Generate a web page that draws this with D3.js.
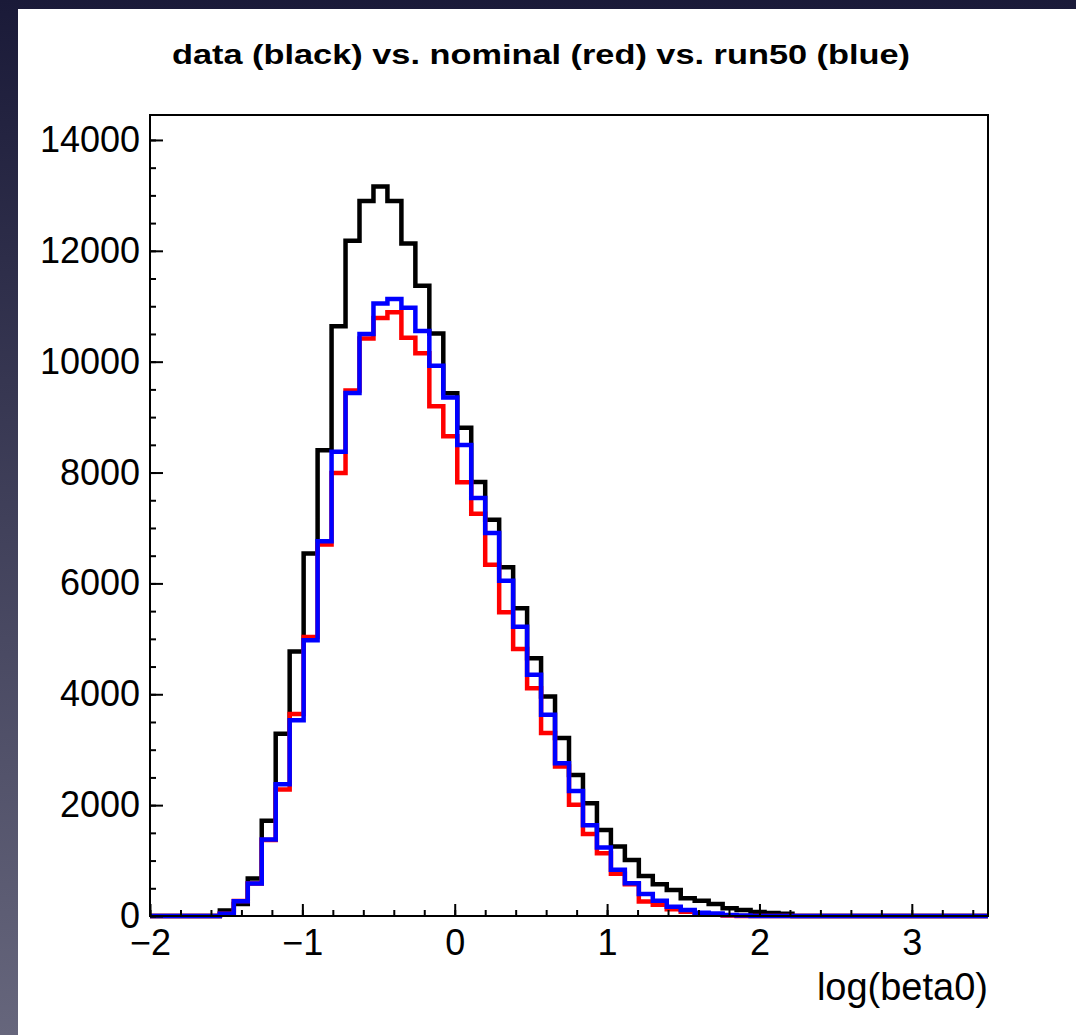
<!DOCTYPE html>
<meta charset="utf-8">
<style>
body { margin: 0; }
text { font-family: "Liberation Sans", Arial, Helvetica, sans-serif; }
</style>
<svg width="1076" height="1035"></svg>
<script src="https://d3js.org/d3.v7.min.js"></script>
<script>

// histogram binning: 60 bins on [-2, 3.5]
var binLo = -2, binHi = 3.5, nBins = 60;

// data (black)
var dataCounts = [
  0, 0, 0, 0, 0, 100, 217, 675, 1720, 3290,
  4770, 6540, 8400, 10640, 12180, 12900, 13160, 12900, 12130, 11370,
  10510, 9430, 8810, 7830, 7150, 6290, 5550, 4650, 3960, 3210,
  2545, 2035, 1550, 1255, 1010, 720, 575, 470, 320, 275,
  215, 140, 108, 70, 55, 40, 0, 0, 0, 0,
  0, 0, 0, 0, 0, 0, 0, 0, 0, 0
];
// nominal (red)
var nominalCounts = [
  0, 0, 0, 0, 0, 40, 270, 585, 1370, 2280,
  3645, 5035, 6700, 7990, 9480, 10420, 10790, 10890, 10430, 10150,
  9195, 8655, 7825, 7255, 6335, 5480, 4815, 4110, 3300, 2695,
  2005, 1480, 1130, 760, 575, 260, 205, 120, 78, 40,
  25, 10, 0, 0, 0, 0, 0, 0, 0, 0,
  0, 0, 0, 0, 0, 0, 0, 0, 0, 0
];
// run50 (blue)
var run50Counts = [
  0, 0, 0, 0, 0, 40, 265, 585, 1380, 2375,
  3530, 4975, 6760, 8375, 9435, 10500, 11050, 11130, 10975, 10555,
  9925, 9355, 8495, 7540, 6910, 6050, 5220, 4350, 3630, 2755,
  2255, 1635, 1235, 835, 590, 395, 275, 165, 108, 60,
  45, 20, 10, 0, 0, 0, 0, 0, 0, 0,
  0, 0, 0, 0, 0, 0, 0, 0, 0, 0
];

var yTicks = [0, 2000, 4000, 6000, 8000, 10000, 12000, 14000];
var xTicks = [-2, -1, 0, 1, 2, 3];

var titleText = "data (black) vs. nominal (red) vs. run50 (blue)";
var xTitle = "log(beta0)";

var svg = d3.select("svg");

// dark surround + white canvas
var grad = svg.append("defs").append("linearGradient")
    .attr("id", "bg").attr("x1", 0).attr("y1", 0).attr("x2", 0).attr("y2", 1);
grad.append("stop").attr("offset", "0%").attr("stop-color", "#1a1a38");
grad.append("stop").attr("offset", "100%").attr("stop-color", "#66667c");
svg.append("rect").attr("width", 1076).attr("height", 1035).attr("fill", "url(#bg)");
svg.append("rect").attr("x", 18).attr("y", 9).attr("width", 1058).attr("height", 1026).attr("fill", "#fff");

// frame edges (pixels)
var frameL = 150, frameR = 988, frameT = 115, frameB = 916;

var x = d3.scaleLinear().domain([binLo, binHi]).range([frameL, frameR]);
var y = d3.scaleLinear().domain([0, 14450]).range([frameB, frameT]);

var binW = (binHi - binLo) / nBins;

function stepPoints(counts) {
  var pts = [[binLo, 0]];
  counts.forEach(function(c, i) {
    pts.push([binLo + i * binW, c]);
    pts.push([binLo + (i + 1) * binW, c]);
  });
  pts.push([binHi, 0]);
  return pts;
}

var line = d3.line()
    .x(function(d) { return x(d[0]); })
    .y(function(d) { return y(d[1]); });

var hists = [
  {counts: dataCounts, color: "#000000"},
  {counts: nominalCounts, color: "#ff0000"},
  {counts: run50Counts, color: "#0000ff"}
];

svg.append("g").selectAll("path")
  .data(hists)
  .enter().append("path")
    .attr("d", function(d) { return line(stepPoints(d.counts)); })
    .attr("fill", "none")
    .attr("stroke", function(d) { return d.color; })
    .attr("stroke-width", 4.5)
    .attr("stroke-linejoin", "miter");

// frame
svg.append("rect")
    .attr("x", frameL).attr("y", frameT)
    .attr("width", frameR - frameL).attr("height", frameB - frameT)
    .attr("fill", "none").attr("stroke", "#000").attr("stroke-width", 2);

// y axis (ticks inside the frame)
var yMinor = svg.append("g").attr("transform", "translate(" + frameL + ",0)")
    .call(d3.axisLeft(y).tickValues(d3.range(0, 14001, 500)).tickSize(-6).tickFormat(""));
var yMajor = svg.append("g").attr("transform", "translate(" + frameL + ",0)")
    .call(d3.axisLeft(y).tickValues(yTicks).tickSize(-13).tickPadding(10).tickFormat(d3.format("d")));

// x axis
var xMinor = svg.append("g").attr("transform", "translate(0," + frameB + ")")
    .call(d3.axisBottom(x).tickValues(d3.range(-2, 3.5001, 0.2)).tickSize(-6).tickFormat(""));
var xMajor = svg.append("g").attr("transform", "translate(0," + frameB + ")")
    .call(d3.axisBottom(x).tickValues(xTicks).tickSize(-12).tickPadding(10)
      .tickFormat(function(d) { return d < 0 ? "\u2212" + (-d) : d; }));

[yMinor, yMajor, xMinor, xMajor].forEach(function(g) {
  g.select(".domain").remove();
  g.selectAll(".tick line").attr("stroke", "#000").attr("stroke-width", 2);
  g.selectAll("text").attr("fill", "#000").attr("font-size", 36)
    .attr("font-family", "Liberation Sans, Arial, sans-serif");
});
xMajor.selectAll("text").attr("dy", "0.8em");

// title
svg.append("text")
    .attr("x", 541).attr("y", 64)
    .attr("text-anchor", "middle")
    .attr("font-size", 28).attr("font-weight", "bold")
    .attr("textLength", 738).attr("lengthAdjust", "spacingAndGlyphs")
    .text(titleText);

// x axis title
svg.append("text")
    .attr("x", frameR).attr("y", 1000)
    .attr("text-anchor", "end")
    .attr("font-size", 38)
    .text(xTitle);

</script>
